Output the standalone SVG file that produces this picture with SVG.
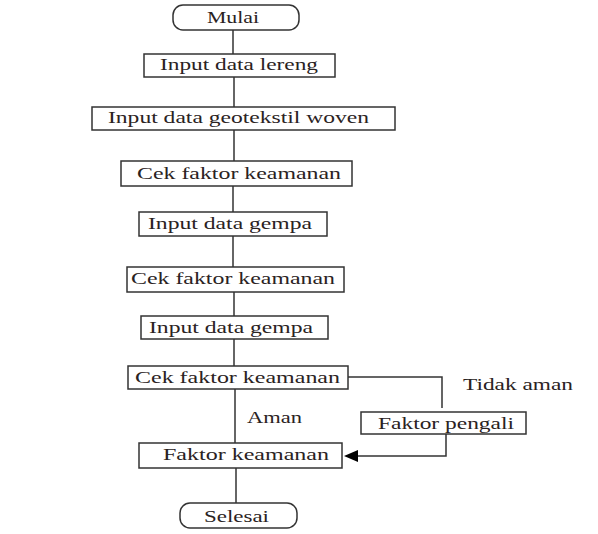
<svg xmlns="http://www.w3.org/2000/svg" width="598" height="534" viewBox="0 0 598 534">
<defs>
<style>
.box{fill:#fff;stroke:#333;stroke-width:1.5}
.ln{fill:none;stroke:#333;stroke-width:1.5}
text{font-family:"Liberation Serif","Times New Roman",serif;font-size:16px;fill:#2a2222}
</style>
<marker id="arr" viewBox="0 0 14 12" refX="0" refY="6" markerWidth="14" markerHeight="12" markerUnits="userSpaceOnUse" orient="auto">
<path d="M14,0 L0,6 L14,12 Z" fill="#000"/>
</marker>
</defs>
<rect width="598" height="534" fill="#fff"/>
<g id="connectors">
<line class="ln" x1="233" y1="30" x2="233" y2="54"/>
<line class="ln" x1="234" y1="77" x2="234" y2="107"/>
<line class="ln" x1="234" y1="130" x2="234" y2="161"/>
<line class="ln" x1="233" y1="186" x2="233" y2="212"/>
<line class="ln" x1="233" y1="236" x2="233" y2="267"/>
<line class="ln" x1="234" y1="292" x2="234" y2="316"/>
<line class="ln" x1="234" y1="339" x2="234" y2="366"/>
<line class="ln" x1="235" y1="389" x2="235" y2="443"/>
<line class="ln" x1="236" y1="468" x2="236" y2="503"/>
<polyline class="ln" points="348,377 442,377 442,408"/>
<path class="ln" d="M446,434 L446,456 L358,456"/>
<path d="M358,450 L344,456 L358,462 Z" fill="#000"/>
<text x="247" y="423" textLength="55" lengthAdjust="spacingAndGlyphs">Aman</text>
<text x="463" y="390" textLength="110" lengthAdjust="spacingAndGlyphs">Tidak aman</text>
</g>
<g id="mulai">
<rect class="box" x="173" y="5" width="126" height="25" rx="10"/>
<text x="207" y="23" textLength="52" lengthAdjust="spacingAndGlyphs">Mulai</text>
</g>
<g id="input-lereng">
<rect class="box" x="144" y="54" width="191" height="23"/>
<text x="160" y="70" textLength="158" lengthAdjust="spacingAndGlyphs">Input data lereng</text>
</g>
<g id="input-geotekstil">
<rect class="box" x="92" y="107" width="303" height="23"/>
<text x="108" y="123" textLength="261" lengthAdjust="spacingAndGlyphs">Input data geotekstil woven</text>
</g>
<g id="cek1">
<rect class="box" x="121" y="161" width="231" height="25"/>
<text x="137" y="179" textLength="204" lengthAdjust="spacingAndGlyphs">Cek faktor keamanan</text>
</g>
<g id="gempa1">
<rect class="box" x="139" y="212" width="188" height="24"/>
<text x="148" y="229" textLength="164" lengthAdjust="spacingAndGlyphs">Input data gempa</text>
</g>
<g id="cek2">
<rect class="box" x="127" y="267" width="217" height="25"/>
<text x="131" y="284" textLength="204" lengthAdjust="spacingAndGlyphs">Cek faktor keamanan</text>
</g>
<g id="gempa2">
<rect class="box" x="141" y="316" width="187" height="23"/>
<text x="149" y="333" textLength="164" lengthAdjust="spacingAndGlyphs">Input data gempa</text>
</g>
<g id="cek3">
<rect class="box" x="128" y="366" width="220" height="23"/>
<text x="135" y="383" textLength="205" lengthAdjust="spacingAndGlyphs">Cek faktor keamanan</text>
</g>
<g id="faktor-pengali">
<rect class="box" x="361" y="412" width="165" height="22"/>
<text x="378" y="429" textLength="136" lengthAdjust="spacingAndGlyphs">Faktor pengali</text>
</g>
<g id="faktor-keamanan">
<rect class="box" x="139" y="443" width="203" height="25"/>
<text x="163" y="460" textLength="166" lengthAdjust="spacingAndGlyphs">Faktor keamanan</text>
</g>
<g id="selesai">
<rect class="box" x="180" y="503" width="117" height="25" rx="10"/>
<text x="204" y="522" textLength="65" lengthAdjust="spacingAndGlyphs">Selesai</text>
</g>
</svg>
